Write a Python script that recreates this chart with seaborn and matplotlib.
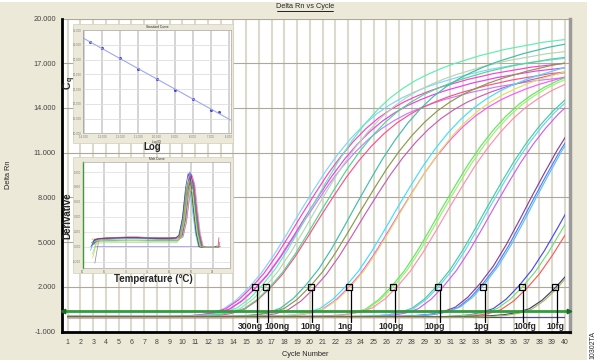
import matplotlib
matplotlib.use("Agg")
import matplotlib.pyplot as plt
from matplotlib.patches import Rectangle
from matplotlib.lines import Line2D
import numpy as np
import pandas as pd
import seaborn as sns

# ---------------- amplification data ----------------
# typical curve shape: Delta Rn against cycles counted from the 2.000 crossing
shape_offset = list(range(-7, 26))
shape_rn = [0, 20, 60, 130, 270, 550, 1150, 2000, 3000, 4250, 5650, 7100, 8500,
            9850, 11050, 12100, 13000, 13750, 14350, 14850, 15250, 15600, 15900,
            16150, 16400, 16600, 16800, 16950, 17100, 17250, 17350, 17450, 17550]

# one entry per amplified well
well_group = (["300ng"] * 4 + ["100ng"] * 4 + ["10ng"] * 3 + ["1ng"] * 3 + ["100pg"] * 3
              + ["10pg"] * 3 + ["1pg"] * 3 + ["100fg"] * 3 + ["10fg"] * 2)
well_ct = [15.2, 15.4, 15.6, 15.7, 16.3, 16.5, 16.8, 16.9, 19.7, 20.0, 20.3,
           22.8, 23.0, 23.2, 26.4, 26.6, 26.9, 30.0, 30.2, 30.5, 33.4, 33.6, 33.8,
           36.4, 36.7, 37.0, 39.2, 39.4]
well_scale = [0.99, 0.97, 0.92, 0.955, 1.066, 1.023, 0.947, 1.0, 1.076, 1.003, 0.972,
              1.016, 0.982, 1.003, 1.04, 1.033, 1.017, 1.058, 1.053, 1.049,
              1.133, 1.127, 1.131, 1.05, 1.016, 0.975, 0.946, 0.98]
well_base = [-30, 10, -50, 0, 20, -20, -40, 30, -10, 15, -60, 5, -25, 25,
             -45, 0, 35, -15, 10, -35, 20, -5, 40, -20, 0, -50, 15, -30]

# no template control
ntc_cycles = [1, 40]
ntc_rn = [-20, -20]

threshold = 400
dilution_labels = ["300ng", "100ng", "10ng", "1ng", "100pg", "10pg", "1pg", "100fg", "10fg"]
dilution_ct = [15.7, 16.55, 20.05, 23.1, 26.55, 30.05, 33.55, 36.6, 39.2]

# ---------------- standard curve inset ----------------
std_log = [-13.7, -13.0, -12.0, -11.0, -10.0, -9.0, -8.0, -7.0, -6.52]
std_cq = [41.0, 38.8, 35.4, 31.8, 28.4, 24.8, 21.5, 18.0, 17.1]

# ---------------- melt curve inset ----------------
melt_temp = [62.3, 63.2, 64.2, 65.5, 67.5, 70.0, 72.5, 75.0, 77.5, 80.0, 81.8,
             82.6, 83.4, 84.1, 84.7, 85.3, 85.9, 86.5, 87.2, 88.0, 90.8, 91.0, 91.2]
melt_shape = [0.06, 0.10, 0.11, 0.115, 0.12, 0.125, 0.125, 0.12, 0.115, 0.115, 0.12,
              0.16, 0.40, 0.80, 1.00, 0.88, 0.52, 0.20, 0.00, -0.01, -0.01, 0.0, 0.0]
melt_start = [0.08, 0.05, 0.02, 0.09, -0.05, 0.07, 0.03, 0.10, -0.22, -0.10, 0.06, 0.0, 0.04, -0.15]
melt_level = [1.0, 0.95, 1.0, 1.02, 0.9, 1.0, 0.98, 1.03, 0.85, 0.45, 1.0, 0.97, 0.7, 0.6]
melt_peak = [0.95, 0.9, 1.0, 0.97, 0.85, 0.92, 0.95, 0.9, 0.8, 0.75, 0.93, 0.98, 0.88, 0.82]
melt_shift = [0.2, -0.3, 0.0, 0.4, -0.5, 0.1, 0.3, -0.2, 0.5, -0.1, 0.6, -0.4, 0.2, 0.0]
melt_end = [0.12, 0.0, 0.0, 0.06, 0.0, 0.0, 0.0, 0.02, 0.0, 0.0, 0.0, 0.0, 0.0, 0.0]
melt_ntc_temp = [62.5, 91.0]
melt_ntc = [0.01, 0.01]

# ---------------- styles ----------------
well_colors = ["#7fd4ff", "#ff3fd0", "#c77dff", "#f03cf0",
               "#5cf0b0", "#b5d8b0", "#ff4f8f", "#4fd88f",
               "#3fbfa8", "#8a9a4a", "#c860b0",
               "#3fdfff", "#ff55ff", "#e0e060",
               "#5fe85f", "#a0f070", "#ff8fb0",
               "#3fcfa0", "#6fd0f0", "#d060f0",
               "#8a3f9a", "#4f7fff", "#5fc0f0",
               "#4a4aee", "#6fe06f", "#ff5a5a",
               "#3a3a9a", "#b0c040"]
melt_colors = ["#e03030", "#30b030", "#3050e0", "#d030d0", "#30c0d0", "#909030", "#8040a0",
               "#f09030", "#808080", "#90e090", "#f080b0", "#303090", "#30a090", "#c0d040"]
label_nudge = [-0.35, 0.9, 0.0, -0.3, -0.2, -0.25, -0.1, 0.3, 0.05]
BEIGE = "#ece9d8"
NARROW = ["Liberation Sans Narrow", "Liberation Sans", "DejaVu Sans"]

sns.set_theme(style="white")
plt.rcParams["font.family"] = ["Liberation Sans", "DejaVu Sans"]

W, H = 600, 363
fig = plt.figure(figsize=(6, 3.63), dpi=100, facecolor="white")


def fx(px):
    return px / W


def fy(py):
    return 1 - py / H


# beige window background
fig.add_artist(Rectangle((0, fy(360)), fx(587), (360 - 2) / H, transform=fig.transFigure,
                         facecolor=BEIGE, edgecolor="none", zorder=-10))

# ---------------- main amplification plot ----------------
ax = fig.add_axes([fx(62), fy(331.7), fx(570 - 62), (331.7 - 18.5) / H])
ax.set_zorder(0)
ax.set_facecolor("white")

rows = []
for i, (ct, s, b) in enumerate(zip(well_ct, well_scale, well_base)):
    name = f"{well_group[i]}_{i}"
    rows.append((name, 1, b))
    for k, v in zip(shape_offset, shape_rn):
        rows.append((name, ct + k, v * s + b))
amp = pd.DataFrame(rows, columns=["well", "cycle", "rn"])
palette = dict(zip(amp["well"].unique(), well_colors))

sns.lineplot(x=ntc_cycles, y=ntc_rn, color="#50507a", lw=0.9, ax=ax)
sns.lineplot(data=amp, x="cycle", y="rn", hue="well", palette=palette, estimator=None,
             sort=False, legend=False, lw=0.85, ax=ax)
clip = Rectangle((0.5, -1000), 39.5, 21000, transform=ax.transData)
for ln in ax.lines:
    ln.set_clip_path(clip)

# threshold line with arrow ends
ax.plot([0.56, 40.38], [threshold, threshold], color="#2f9e3b", lw=2.0, zorder=4)
ax.plot([0.62], [threshold], marker="<", ms=3.2, color="#1d6a27", zorder=5, clip_on=False)
ax.plot([40.34], [threshold], marker=">", ms=3.2, color="#1d6a27", zorder=5, clip_on=False)

# dilution markers with leader lines and labels
ax.plot(dilution_ct, [2000] * len(dilution_ct), ls="none", marker="s", ms=4.6,
        mfc="none", mec="black", mew=0.9, zorder=6)
for ct, lab, dx in zip(dilution_ct, dilution_labels, label_nudge):
    ax.plot([ct + 0.15, ct + 0.15], [1800, -330], color="black", lw=0.9, zorder=6)
    ax.text(ct + dx, -660, lab, ha="center", va="center", fontsize=6.2,
            fontweight="bold", family=NARROW, zorder=7)

ax.set_xlim(0.553, 40.4)
ax.set_ylim(-1000, 20000)
ax.set_xticks(range(1, 41))
ax.set_yticks(range(-1000, 20001, 3000))
ax.set_yticklabels([f"{v / 1000:.3f}" for v in range(-1000, 20001, 3000)])
ax.grid(axis="x", color="#dcd9cd", lw=1.5)
ax.grid(axis="y", color="#aca89b", lw=0.8)
ax.set_axisbelow(True)
ax.tick_params(axis="x", length=0, pad=5.2, labelsize=5, labelcolor="#444444")
ax.tick_params(axis="y", length=0, pad=4.3, labelsize=5.3, labelcolor="#444444")
ax.set_xlabel("")
ax.set_ylabel("")
for side in ["left", "bottom"]:
    ax.spines[side].set_color("black")
    ax.spines[side].set_linewidth(2)
ax.spines["right"].set_color("#9a9a9a")
ax.spines["right"].set_linewidth(2.5)
ax.spines["top"].set_visible(False)

fig.text(fx(305), fy(7), "Delta Rn vs Cycle", ha="center", va="center", fontsize=5.3)
fig.add_artist(Line2D([fx(277), fx(333)], [fy(11), fy(11)], color="black", lw=0.6,
                      transform=fig.transFigure))
fig.text(fx(305), fy(355), "Cycle Number", ha="center", va="center", fontsize=5.3)
fig.text(fx(8), fy(175), "Delta Rn", ha="center", va="center", rotation=90, fontsize=5.3)
fig.text(fx(593), fy(345), "10302TA", ha="center", va="center", rotation=90, fontsize=5)

# ---------------- inset panels ----------------
for top, bottom in [(24, 143.3), (156.7, 273.3)]:
    fig.add_artist(Rectangle((fx(73.3), fy(bottom)), fx(160), (bottom - top) / H,
                             transform=fig.transFigure, facecolor=BEIGE,
                             edgecolor="#d2cebf", lw=0.5, zorder=1))


def style_inset(a, left_color="#999999"):
    a.set_zorder(2)
    a.set_facecolor("white")
    a.tick_params(length=0, pad=1, labelsize=2, labelcolor="#777777")
    for sp in a.spines.values():
        sp.set_color("#aaaaaa")
        sp.set_linewidth(0.5)
    a.spines["left"].set_color(left_color)
    a.set_axisbelow(True)


# standard curve
ax1 = fig.add_axes([fx(83.3), fy(133.3), fx(147.4), 103.3 / H])
style_inset(ax1)
ax1.set_xlim(-14.05, -5.9)
ax1.set_ylim(10, 45)
sns.regplot(x=std_log, y=std_cq, ax=ax1, ci=None, truncate=False,
            scatter_kws=dict(marker="s", s=5, color="#1a1ad8", linewidths=0),
            line_kws=dict(color="#9fa8f2", lw=0.8))
ax1.set_xlim(-14.05, -5.9)
ax1.set_ylim(10, 45)
ax1.set_xticks(range(-14, -5))
ax1.set_xticklabels([f"{v:.3f}" for v in range(-14, -5)])
ax1.set_yticks(range(10, 46, 5))
ax1.set_yticklabels([f"{v:.3f}" for v in range(10, 46, 5)])
ax1.grid(axis="x", color="#c9c9c9", lw=1.1)
ax1.grid(axis="y", color="#dedede", lw=0.6)
ax1.set_title("Standard Curve", fontsize=2.3, pad=1.5)
ax1.set_xlabel("Log (Q)", fontsize=2, labelpad=0.8)
ax1.set_ylabel("")

# melt curves
ax2 = fig.add_axes([fx(82.7), fy(268.3), fx(147.3), 106 / H])
style_inset(ax2, left_color="#3a9a3a")
ax2.spines["left"].set_linewidth(1.0)
sns.lineplot(x=melt_ntc_temp, y=melt_ntc, color="#a898e8", lw=0.6, ax=ax2)
for i, col in enumerate(melt_colors):
    t = [v + melt_shift[i] for v in melt_temp]
    y = list(melt_shape)
    y[0] = melt_start[i]
    for j in range(1, 11):
        y[j] = melt_shape[j] * melt_level[i]
    for j in range(11, 18):
        y[j] = melt_shape[j] * melt_peak[i]
    y[-1] = melt_end[i]
    sns.lineplot(x=t, y=y, color=col, lw=0.55, alpha=0.85, sort=False, ax=ax2)
ax2.set_xlim(60, 93.95)
ax2.set_ylim(-0.29, 1.13)
ax2.set_xticks(range(60, 95, 5))
ax2.set_xticklabels([f"{v}" for v in range(60, 95, 5)])
ax2.set_yticks(np.round(np.arange(-0.2, 1.11, 0.2), 1))
ax2.set_yticklabels([f"{v:.3f}" for v in np.arange(-0.2, 1.11, 0.2)])
ax2.grid(axis="x", color="#c9c9c9", lw=1.1)
ax2.grid(axis="y", color="#e2e2e2", lw=0.6)
ax2.set_title("Melt Curve", fontsize=2.3, pad=1.5)
ax2.set_xlabel("")
ax2.set_ylabel("")

# big inset axis labels drawn on the main chart
fig.text(fx(67.3), fy(85), "C", rotation=90, ha="center", va="center", fontsize=7.5,
         fontweight="bold", family=NARROW, zorder=3)
fig.text(fx(70.2), fy(79), "q", rotation=90, ha="center", va="center", fontsize=5,
         fontweight="bold", family=NARROW, zorder=3)
fig.text(fx(152.5), fy(147.5), "Log", ha="center", va="center", fontsize=7,
         fontweight="bold", family=NARROW, zorder=3)
fig.text(fx(67.8), fy(215.3), "Derivative", rotation=90, ha="center", va="center",
         fontsize=7, fontweight="bold", family=NARROW, zorder=3)
fig.text(fx(153.3), fy(279.5), "Temperature (°C)", ha="center", va="center", fontsize=7,
         fontweight="bold", family=NARROW, zorder=3)

fig.savefig("out.png", dpi=100, facecolor="white")
